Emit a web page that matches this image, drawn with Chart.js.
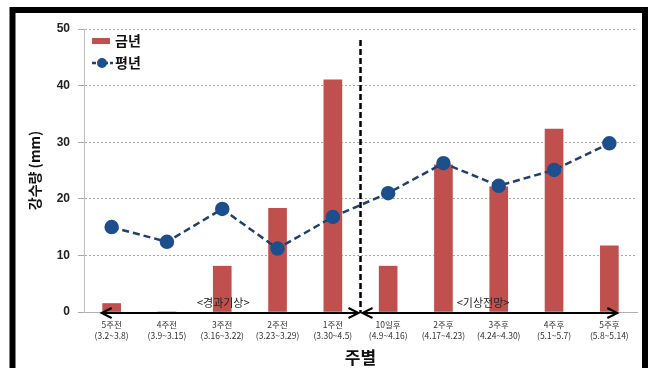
<!DOCTYPE html>
<html>
<head>
<meta charset="utf-8">
<script src="https://cdn.jsdelivr.net/npm/chart.js@4"></script>
<style>
  html, body { margin: 0; padding: 0; background: #fff; }
  #wrap { width: 650px; height: 368px; }
</style>
</head>
<body>
<div id="wrap"><canvas id="grafico" width="650" height="368"></canvas></div>
<script>
/* ---------- Dados ---------- */
const semanas = ['5주전', '4주전', '3주전', '2주전', '1주전', '10일후', '2주후', '3주후', '4주후', '5주후'];
const periodos = ['(3.2~3.8)', '(3.9~3.15)', '(3.16~3.22)', '(3.23~3.29)', '(3.30~4.5)',
                  '(4.9~4.16)', '(4.17~4.23)', '(4.24~4.30)', '(5.1~5.7)', '(5.8~5.14)'];
const anoAtual = [1.5, 0, 8.1, 18.3, 41.0, 8.1, 26.0, 22.1, 32.3, 11.7];
const normal = [15.0, 12.4, 18.2, 11.2, 16.8, 21.0, 26.3, 22.3, 25.1, 29.8];
const yTicks = [0, 10, 20, 30, 40, 50];

const FONT_KR = '"Noto Sans CJK KR", "Noto Sans", sans-serif';
const FONT_NUM = '"Liberation Sans", Arial, sans-serif';
const COR_BARRA = '#c0504d';
const COR_LINHA = '#1f3f6e';
const COR_PONTO = '#1c4f8c';

/* ---------- Desenhos extras: moldura, divisor, setas, legenda ---------- */
const extras = {
  id: 'extras',
  afterDatasetsDraw(chart) {
    const { ctx, scales: { x, y } } = chart;
    const y0 = y.getPixelForValue(0) + 1;
    const xDiv = (x.getPixelForValue(4) + x.getPixelForValue(5)) / 2;
    ctx.save();

    // divisor tracejado
    ctx.strokeStyle = '#000';
    ctx.lineWidth = 2.5;
    ctx.setLineDash([6, 3]);
    ctx.beginPath();
    ctx.moveTo(xDiv, 40);
    ctx.lineTo(xDiv, y0);
    ctx.stroke();
    ctx.setLineDash([]);

    // setas
    function seta(xa, xb) {
      ctx.strokeStyle = '#000';
      ctx.lineWidth = 2;
      ctx.beginPath();
      ctx.moveTo(xa, y0); ctx.lineTo(xb, y0);
      ctx.stroke();
      [[xa, 1], [xb, -1]].forEach(([px, d]) => {
        ctx.beginPath();
        ctx.moveTo(px + d * 10, y0 - 5);
        ctx.lineTo(px, y0);
        ctx.lineTo(px + d * 10, y0 + 5);
        ctx.stroke();
      });
    }
    seta(x.getPixelForValue(0) - 10, xDiv - 2);
    seta(xDiv + 2, x.getPixelForValue(9) + 8);

    ctx.fillStyle = '#222';
    ctx.font = '11px ' + FONT_KR;
    ctx.textAlign = 'center';
    ctx.textBaseline = 'middle';
    ctx.fillText('<경과기상>', x.getPixelForValue(2) + 1, 303);
    ctx.fillText('<기상전망>', (x.getPixelForValue(7) + x.getPixelForValue(6)) / 2 + 12, 303);

    // legenda
    ctx.fillStyle = COR_BARRA;
    ctx.fillRect(92, 38, 18, 6);
    ctx.strokeStyle = COR_LINHA;
    ctx.lineWidth = 2.5;
    ctx.setLineDash([4, 2]);
    ctx.beginPath(); ctx.moveTo(92, 63); ctx.lineTo(113, 63); ctx.stroke();
    ctx.setLineDash([]);
    ctx.fillStyle = COR_PONTO;
    ctx.beginPath(); ctx.arc(102, 63, 5, 0, Math.PI * 2); ctx.fill();
    ctx.fillStyle = '#111';
    ctx.font = 'bold 14px ' + FONT_KR;
    ctx.textAlign = 'left';
    ctx.fillText('금년', 115, 41);
    ctx.fillText('평년', 115, 63);

    // moldura
    ctx.strokeStyle = '#000';
    ctx.lineWidth = 6;
    ctx.beginPath();
    ctx.moveTo(12.5, 380);
    ctx.lineTo(12.5, 10);
    ctx.lineTo(645, 10);
    ctx.lineTo(645, 380);
    ctx.stroke();
    ctx.restore();
  }
};

/* ---------- Gráfico ---------- */
const ctx = document.getElementById('grafico').getContext('2d');
const grafico = new Chart(ctx, {
  type: 'bar',
  data: {
    labels: semanas.map((s, i) => [s, periodos[i]]),
    datasets: [
      {
        type: 'line',
        label: '평년',
        data: normal,
        borderColor: COR_LINHA,
        borderWidth: 2.5,
        borderDash: [7, 4],
        pointRadius: 6,
        pointBackgroundColor: COR_PONTO,
        pointBorderColor: COR_PONTO,
        tension: 0,
        order: 0
      },
      {
        label: '금년',
        data: anoAtual,
        backgroundColor: COR_BARRA,
        barThickness: 18,
        order: 1
      }
    ]
  },
  options: {
    responsive: false,
    animation: false,
    layout: { padding: { left: 16, right: 13, top: 29, bottom: 0 } },
    plugins: { legend: { display: false }, tooltip: { enabled: false } },
    scales: {
      x: {
        grid: { display: false },
        border: { color: '#b0b0b0', width: 1 },
        ticks: {
          color: '#333',
          font: { family: FONT_KR, size: 8.5, lineHeight: 1.3 },
          padding: -1,
          maxRotation: 0,
          autoSkip: false
        },
        title: {
          display: true,
          text: '주별',
          color: '#111',
          font: { family: FONT_KR, size: 17, weight: 'bold' },
          padding: { top: 2, bottom: 0 }
        },
        afterFit(scale) { scale.height = 56; }
      },
      y: {
        min: 0,
        max: 50,
        afterBuildTicks(scale) { scale.ticks = yTicks.map(v => ({ value: v })); },
        grid: {
          color: '#a8a8a8',
          lineWidth: 1,
          tickLength: 6
        },
        border: {
          color: '#c0c0c0',
          width: 1,
          dash: c => (c.tick && c.tick.value === 0 ? [] : [2, 2])
        },
        ticks: {
          color: '#222',
          font: { family: FONT_NUM, size: 12, weight: 'bold' },
          padding: 8
        },
        title: {
          display: true,
          text: '강수량 (mm)',
          color: '#111',
          font: { family: FONT_KR, size: 14, weight: 'bold' },
          padding: { top: 10, bottom: 0 }
        },
        afterFit(scale) { scale.width = 68; }
      }
    }
  },
  plugins: [extras]
});
</script>
</body>
</html>
